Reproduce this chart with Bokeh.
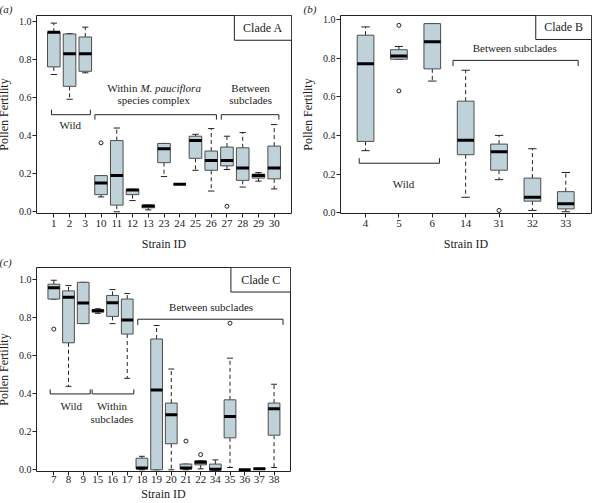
from bokeh.plotting import figure
from bokeh.layouts import column, row
from bokeh.models import FixedTicker, PrintfTickFormatter, Range1d, ColumnDataSource
from bokeh.core.properties import value
from bokeh.embed import file_html
from bokeh.resources import INLINE

FONT = "Liberation Serif"
BOX_FILL = "#bfd2da"
BOX_LINE = "#4d4d4d"

# ---------------- Panel A (Clade A) ----------------
a_ids = ["1", "2", "3", "10", "11", "12", "13", "23", "24", "25", "26", "27", "28", "29", "30"]
a_low = [0.721, 0.591, 0.730, 0.078, 0.000, 0.059, 0.010, 0.185, 0.144, 0.218, 0.109, 0.222, 0.130, 0.161, 0.120]
a_q1 = [0.761, 0.659, 0.738, 0.090, 0.035, 0.090, 0.021, 0.258, 0.144, 0.281, 0.218, 0.241, 0.165, 0.177, 0.173]
a_med = [0.943, 0.830, 0.830, 0.151, 0.190, 0.114, 0.030, 0.331, 0.144, 0.374, 0.269, 0.270, 0.230, 0.190, 0.230]
a_q3 = [0.943, 0.934, 0.918, 0.190, 0.374, 0.118, 0.035, 0.359, 0.144, 0.397, 0.319, 0.340, 0.336, 0.198, 0.345]
a_high = [0.991, 0.936, 0.970, 0.190, 0.440, 0.118, 0.035, 0.359, 0.144, 0.407, 0.437, 0.397, 0.416, 0.206, 0.458]
a_out_ids = ["10", "27"]
a_out_vals = [0.362, 0.029]

# ---------------- Panel B (Clade B) ----------------
b_ids = ["4", "5", "6", "14", "31", "32", "33"]
b_low = [0.321, 0.794, 0.681, 0.080, 0.171, 0.012, 0.005]
b_q1 = [0.369, 0.794, 0.744, 0.300, 0.220, 0.060, 0.020]
b_med = [0.771, 0.810, 0.884, 0.375, 0.316, 0.080, 0.046]
b_q3 = [0.918, 0.843, 0.978, 0.577, 0.355, 0.179, 0.109]
b_high = [0.961, 0.860, 0.978, 0.737, 0.400, 0.331, 0.208]
b_out_ids = ["5", "5", "31"]
b_out_vals = [0.969, 0.630, 0.012]

# ---------------- Panel C (Clade C) ----------------
c_ids = ["7", "8", "9", "15", "16", "17", "18", "19", "20", "21", "22", "34", "35", "36", "37", "38"]
c_low = [0.898, 0.439, 0.769, 0.823, 0.769, 0.481, 0.000, 0.000, 0.000, 0.000, 0.005, 0.000, 0.012, 0.000, 0.003, 0.012]
c_q1 = [0.898, 0.668, 0.769, 0.830, 0.807, 0.714, 0.005, 0.000, 0.137, 0.005, 0.026, 0.000, 0.168, 0.000, 0.003, 0.182]
c_med = [0.958, 0.908, 0.877, 0.837, 0.878, 0.788, 0.010, 0.420, 0.290, 0.010, 0.040, 0.003, 0.280, 0.000, 0.005, 0.321]
c_q3 = [0.976, 0.941, 0.986, 0.842, 0.917, 0.898, 0.061, 0.688, 0.351, 0.030, 0.047, 0.030, 0.368, 0.000, 0.007, 0.351]
c_high = [0.997, 0.969, 0.986, 0.847, 0.948, 0.927, 0.071, 0.759, 0.530, 0.030, 0.049, 0.052, 0.587, 0.000, 0.007, 0.450]
c_out_ids = ["7", "21", "22", "35"]
c_out_vals = [0.740, 0.151, 0.080, 0.771]

y_ticks = [0.0, 0.2, 0.4, 0.6, 0.8, 1.0]


def make_fig(ids, xr, yr, w, h, borders, lab_standoff, axlab_standoff, tag, title_standoff):
    n = len(ids)
    p = figure(width=w, height=h, x_range=Range1d(*xr), y_range=Range1d(*yr),
               output_backend="svg", toolbar_location=None, title=tag,
               min_border_left=borders[0], min_border_right=borders[1],
               min_border_top=borders[2], min_border_bottom=borders[3])
    p.title.text_font = FONT
    p.title.text_font_size = "11px"
    p.title.text_font_style = "italic"
    p.title.text_color = "#222222"
    p.title.align = "left"
    p.title.offset = -37
    p.title.standoff = title_standoff
    p.background_fill_color = "white"
    p.border_fill_color = "white"
    p.outline_line_color = "#222222"
    p.outline_line_width = 1
    p.xgrid.visible = False
    p.ygrid.visible = False
    xs = list(range(1, n + 1))
    p.xaxis.ticker = FixedTicker(ticks=xs)
    p.xaxis.major_label_overrides = {i + 1: s for i, s in enumerate(ids)}
    p.yaxis.ticker = FixedTicker(ticks=y_ticks)
    p.yaxis.formatter = PrintfTickFormatter(format="%.1f")
    for ax in (p.xaxis[0], p.yaxis[0]):
        ax.axis_line_color = None
        ax.major_tick_line_color = "#222222"
        ax.major_tick_out = 4
        ax.major_tick_in = 0
        ax.minor_tick_line_color = None
        ax.major_label_text_font = FONT
        ax.major_label_text_color = "#222222"
        ax.axis_label_text_font = FONT
        ax.axis_label_text_font_style = "normal"
        ax.axis_label_text_font_size = "12px"
        ax.axis_label_text_color = "#222222"
    p.xaxis.major_label_text_font_size = "11px"
    p.yaxis.major_label_text_font_size = "10px"
    p.xaxis.axis_label = "Strain ID"
    p.yaxis.axis_label = "Pollen Fertility"
    p.xaxis.major_label_standoff = lab_standoff
    p.xaxis.axis_label_standoff = axlab_standoff
    p.yaxis.major_label_standoff = 1
    p.yaxis.axis_label_standoff = 5
    return p


def draw_boxes(p, ids, low, q1, med, q3, high, out_ids, out_vals, w):
    xs = list(range(1, len(ids) + 1))
    src = ColumnDataSource(dict(
        x=xs, low=low, q1=q1, med=med, q3=q3, high=high,
        xl=[x - w / 2 for x in xs], xr=[x + w / 2 for x in xs],
        cl=[x - w / 4 for x in xs], cr=[x + w / 4 for x in xs]))
    p.segment(x0="x", y0="q3", x1="x", y1="high", source=src, line_color="#222222",
              line_width=1, line_dash="4 3")
    p.segment(x0="x", y0="q1", x1="x", y1="low", source=src, line_color="#222222",
              line_width=1, line_dash="4 3")
    p.segment(x0="cl", y0="high", x1="cr", y1="high", source=src, line_color="#222222", line_width=1)
    p.segment(x0="cl", y0="low", x1="cr", y1="low", source=src, line_color="#222222", line_width=1)
    p.vbar(x="x", top="q3", bottom="q1", width=w, source=src, fill_color=BOX_FILL,
           line_color=BOX_LINE, line_width=1)
    p.segment(x0="xl", y0="med", x1="xr", y1="med", source=src, line_color="black", line_width=3)
    ox = [ids.index(i) + 1 for i in out_ids]
    p.scatter(x=ox, y=out_vals, marker="circle", size=4, fill_color=None,
              line_color="#222222", line_width=1)


def bracket(p, x0, x1, y, yend):
    p.line([x0, x0, x1, x1], [yend, y, y, yend], line_color="#222222", line_width=1)


def txt(p, x, y, s, size="11px", align="center", style="normal", xoff=0):
    p.text(x=[x], y=[y], text=[s], text_font=value(FONT), text_font_size=size,
           text_align=align, text_baseline="middle", text_color="#222222",
           text_font_style=style, x_offset=xoff)


def clade_box(p, left, right, bottom, top, s):
    p.quad(left=[left], right=[right], bottom=[bottom], top=[top], fill_color="white",
           line_color="#222222", line_width=1)
    txt(p, (left + right) / 2, (bottom + top) / 2, s, size="12px")


# ---- Panel A ----
pa = make_fig(a_ids, (-0.1, 16.1), (-0.009, 1.031), 304, 253, (38, 6, 14, 39), 2, 7, "(a)", 1)
draw_boxes(pa, a_ids, a_low, a_q1, a_med, a_q3, a_high, a_out_ids, a_out_vals, 0.8)
bracket(pa, 0.85, 3.32, 0.51, 0.536)
bracket(pa, 3.61, 11.33, 0.51, 0.484)
bracket(pa, 11.64, 15.30, 0.51, 0.484)
txt(pa, 2.05, 0.454, "Wild")
txt(pa, 6.50, 0.65, "Within", align="right", xoff=-3)
txt(pa, 6.50, 0.65, "M. pauciflora", align="left", style="italic")
txt(pa, 7.35, 0.588, "species complex")
txt(pa, 13.50, 0.65, "Between")
txt(pa, 13.50, 0.586, "subclades")
clade_box(pa, 12.47, 16.1, 0.901, 1.031, "Clade A")

# ---- Panel B ----
pb = make_fig(b_ids, (0.25, 7.77), (-0.004, 1.020), 295, 253, (38, 1, 14, 39), 2, 7, "(b)", 1)
draw_boxes(pb, b_ids, b_low, b_q1, b_med, b_q3, b_high, b_out_ids, b_out_vals, 0.5)
bracket(pb, 0.81, 3.215, 0.256, 0.282)
bracket(pb, 3.62, 7.37, 0.788, 0.759)
txt(pb, 2.14, 0.15, "Wild")
txt(pb, 5.47, 0.85, "Between subclades")
clade_box(pb, 6.10, 7.77, 0.896, 1.020, "Clade B")

# ---- Panel C ----
pc = make_fig(c_ids, (-0.18, 17.12), (-0.009, 1.064), 304, 250, (38, 7, 12, 32), 0, 1, "(c)", 0)
draw_boxes(pc, c_ids, c_low, c_q1, c_med, c_q3, c_high, c_out_ids, c_out_vals, 0.8)
bracket(pc, 0.75, 3.48, 0.399, 0.423)
bracket(pc, 3.61, 6.45, 0.399, 0.423)
bracket(pc, 6.72, 16.61, 0.792, 0.762)
txt(pc, 2.19, 0.333, "Wild")
txt(pc, 4.96, 0.333, "Within")
txt(pc, 4.96, 0.266, "subclades")
txt(pc, 11.71, 0.854, "Between subclades")
clade_box(pc, 13.06, 17.12, 0.935, 1.064, "Clade C")

layout = column(row(pa, pb), pc,
                styles={"margin-left": "-7px", "margin-right": "-8px",
                        "margin-top": "0px", "margin-bottom": "-8px"})

open("out.html", "w").write(file_html(layout, INLINE))
